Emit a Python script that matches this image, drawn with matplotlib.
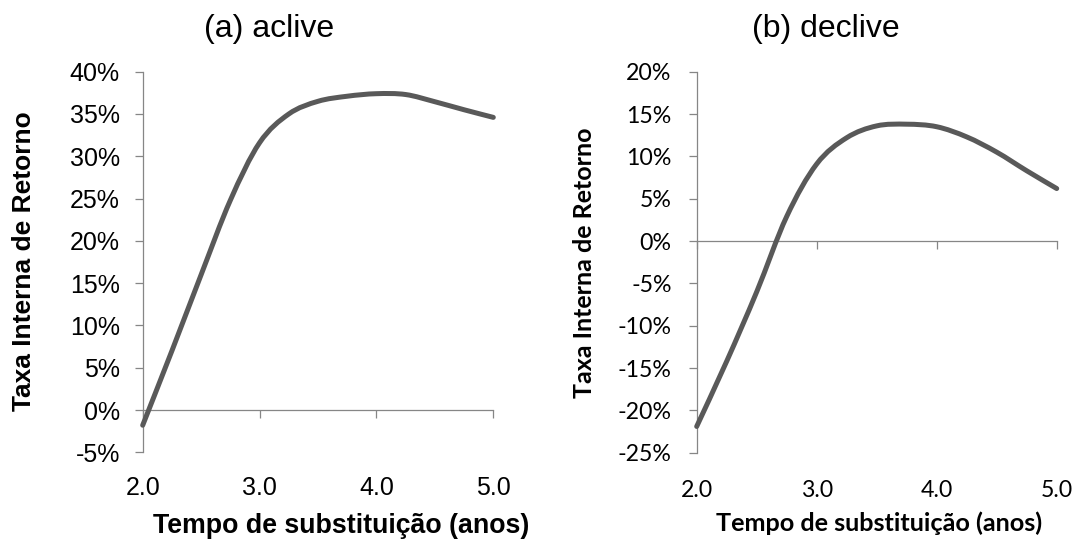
import matplotlib
matplotlib.use("Agg")
import matplotlib.pyplot as plt
import numpy as np
from matplotlib.path import Path
from matplotlib.patches import PathPatch
from matplotlib.transforms import offset_copy

# Replacement time (years) and internal rate of return (%)
years = [2.0, 2.25, 2.5, 2.75, 3.0, 3.25, 3.5, 3.75, 4.0, 4.25, 4.5, 4.75, 5.0]
tir_aclive = [-1.8, 7.0, 16.0, 24.8, 31.6, 35.0, 36.5, 37.1, 37.4, 37.3, 36.45, 35.5, 34.6]
tir_declive = [-21.9, -14.2, -6.0, 2.9, 9.1, 12.2, 13.6, 13.8, 13.5, 12.3, 10.5, 8.3, 6.2]

x_ticks = [2.0, 3.0, 4.0, 5.0]
x_ticklabels = ["2.0", "3.0", "4.0", "5.0"]
y_ticks_aclive = [-5, 0, 5, 10, 15, 20, 25, 30, 35, 40]
y_ticks_declive = [-25, -20, -15, -10, -5, 0, 5, 10, 15, 20]

titles = ["(a) aclive", "(b) declive"]
ylabel_text = "Taxa Interna de Retorno"
xlabel_text = "Tempo de substituição (anos)"

AXIS_GRAY = "#868686"
LINE_GRAY = "#595959"
W, H = 1082, 540


def smooth_path(x, y):
    """Cubic Bezier path through the points with Catmull-Rom tangents."""
    pts = np.column_stack([x, y]).astype(float)
    n = len(pts)
    verts = [pts[0]]
    codes = [Path.MOVETO]
    for i in range(n - 1):
        p0 = pts[i - 1] if i > 0 else pts[i]
        p1 = pts[i]
        p2 = pts[i + 1]
        p3 = pts[i + 2] if i + 2 < n else pts[i + 1]
        verts += [p1 + (p2 - p0) / 6.0, p2 - (p3 - p1) / 6.0, p2]
        codes += [Path.CURVE4] * 3
    return Path(verts, codes)


fig = plt.figure(figsize=(W / 100, H / 100), dpi=100)


def add_axes_px(left, top, right, bottom):
    return fig.add_axes([left / W, 1 - bottom / H, (right - left) / W, (bottom - top) / H])


def style_panel(ax, values, yticks, family, tick_size, ypad, xlab_offset):
    ax.set_xlim(x_ticks[0], x_ticks[-1])
    ax.set_ylim(yticks[0], yticks[-1])
    for side in ("top", "right"):
        ax.spines[side].set_visible(False)
    ax.spines["left"].set_color(AXIS_GRAY)
    ax.spines["left"].set_linewidth(0.9)
    ax.spines["bottom"].set_position(("data", 0))
    ax.spines["bottom"].set_color(AXIS_GRAY)
    ax.spines["bottom"].set_linewidth(0.9)

    ax.set_yticks(yticks)
    ax.set_yticklabels([f"{v}%" for v in yticks], family=family, fontsize=tick_size)
    ax.tick_params(axis="y", direction="out", length=6, width=0.9,
                   color=AXIS_GRAY, pad=ypad, labelcolor="black")
    ax.set_xticks(x_ticks)
    ax.tick_params(axis="x", direction="out", length=6, width=0.9,
                   color=AXIS_GRAY, labelbottom=False)

    # category labels sit below the plot area, not at the zero line
    trans = offset_copy(ax.get_xaxis_transform(), fig=fig, y=-xlab_offset, units="dots")
    for xv, lab in zip(x_ticks, x_ticklabels):
        ax.text(xv, 0, lab, transform=trans, ha="center", va="baseline",
                family=family, fontsize=tick_size, color="black")

    patch = PathPatch(smooth_path(years, values), facecolor="none",
                      edgecolor=LINE_GRAY, linewidth=3.6, joinstyle="round",
                      capstyle="round", clip_on=False, zorder=3)
    ax.add_patch(patch)


sans_a = ["Liberation Sans", "DejaVu Sans"]
sans_b = ["Lato", "DejaVu Sans"]

ax1 = add_axes_px(142.7, 71.7, 493.3, 452.3)
style_panel(ax1, tir_aclive, y_ticks_aclive, sans_a, 18, 10.5, 42.7)

ax2 = add_axes_px(696.7, 71.7, 1056.7, 452.7)
style_panel(ax2, tir_declive, y_ticks_declive, sans_b, 16.7, 12.0, 44.0)

# titles
fig.text(268.8 / W, 1 - 37.5 / H, titles[0], ha="center", va="baseline",
         family=sans_a, fontsize=23)
fig.text(825.5 / W, 1 - 37.5 / H, titles[1], ha="center", va="baseline",
         family=sans_a, fontsize=23)

# axis titles
fig.text(24.3 / W, 1 - 261.5 / H, ylabel_text, rotation=90, ha="center", va="center",
         family=sans_a, fontsize=19, fontweight="bold")
fig.text(585 / W, 1 - 263 / H, ylabel_text, rotation=90, ha="center", va="center",
         family=sans_b, fontsize=18, fontweight="bold")
fig.text(341.4 / W, 1 - 533 / H, xlabel_text, ha="center", va="baseline",
         family=sans_a, fontsize=19.3, fontweight="bold")
fig.text(879 / W, 1 - 531 / H, xlabel_text, ha="center", va="baseline",
         family=sans_b, fontsize=18.2, fontweight="bold")

fig.savefig("out.png", dpi=100, facecolor="white")
